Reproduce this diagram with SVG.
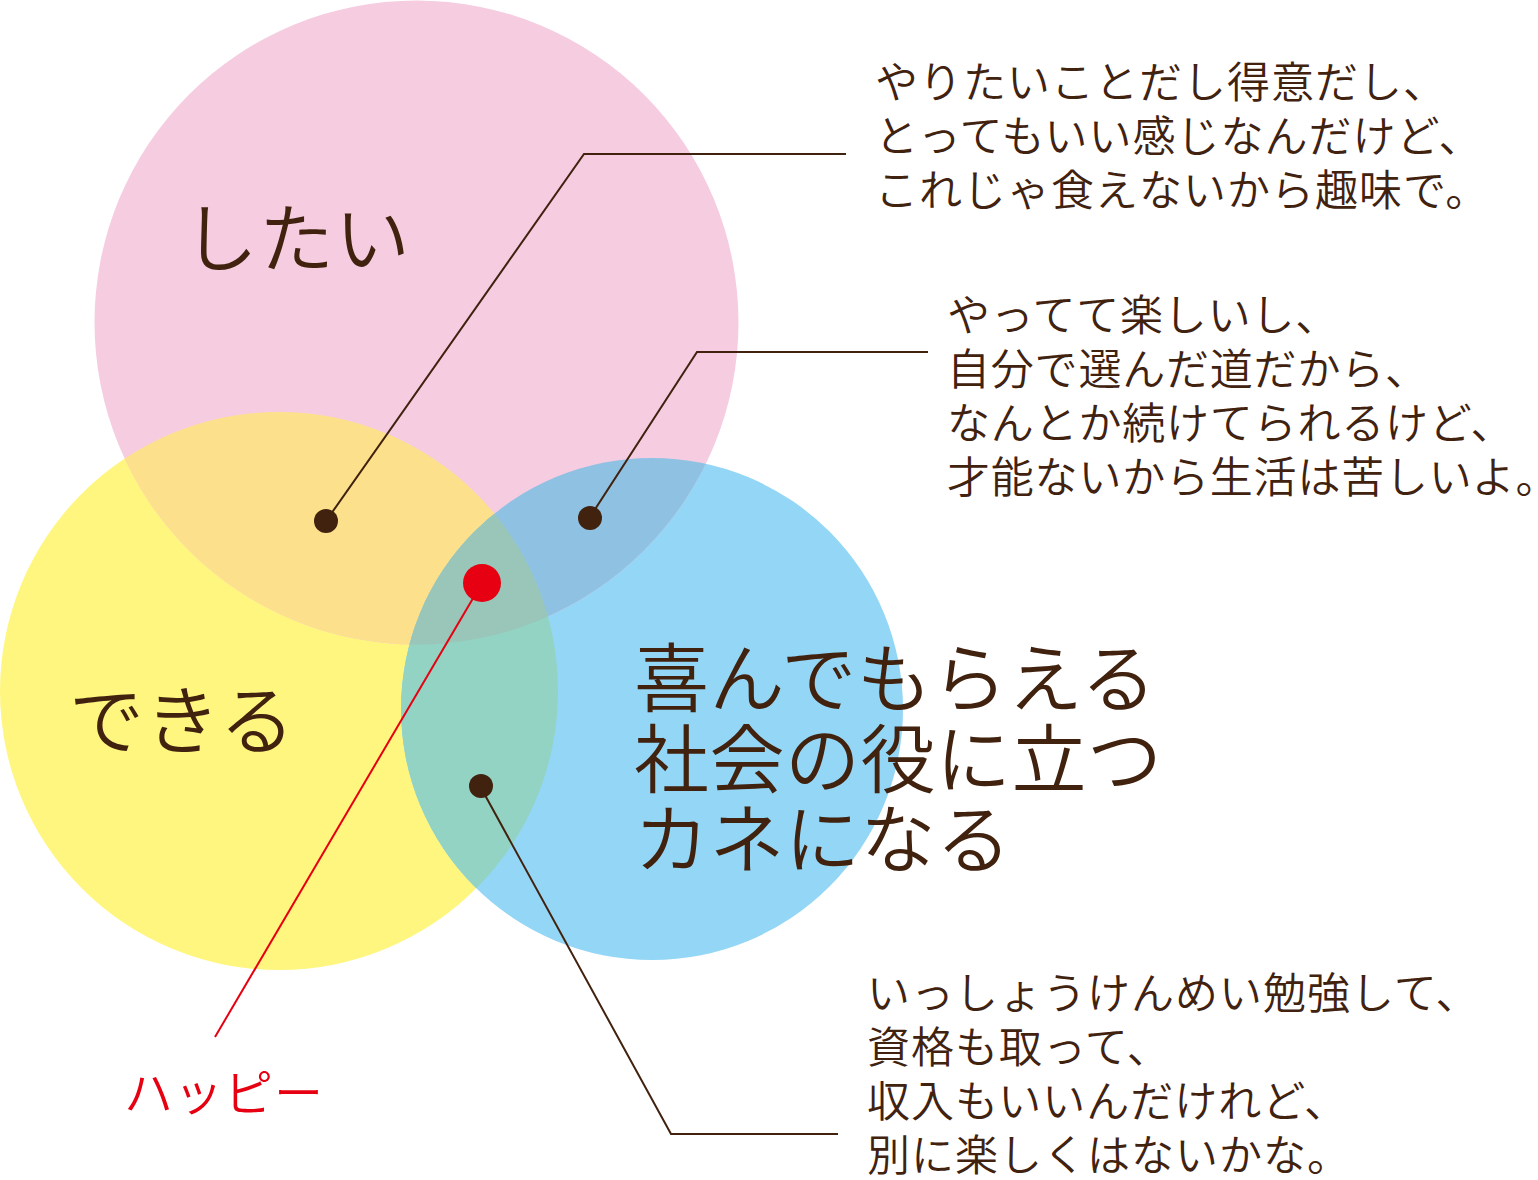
<svg xmlns="http://www.w3.org/2000/svg" width="1538" height="1180" viewBox="0 0 1538 1180">
<style>
text{font-family:"Noto Sans CJK JP","Noto Sans CJK SC",sans-serif;font-weight:350;fill:#40220f}
.big{font-size:75px;letter-spacing:1px}
.cap{font-size:75px;letter-spacing:0.5px}
.note{font-size:43px;letter-spacing:1px}
.note2{font-size:43px;letter-spacing:0.8px}
.happy{font-size:49px;letter-spacing:1px;fill:#e60012}
.ln{fill:none;stroke:#40220f;stroke-width:2}
.red{fill:none;stroke:#e60012;stroke-width:2}
</style>
<defs>
<clipPath id="cY"><circle cx="279" cy="691" r="279"/></clipPath>
<clipPath id="cB"><circle cx="652" cy="709" r="251"/></clipPath>
<clipPath id="cP"><circle cx="416.5" cy="322.5" r="322"/></clipPath>
</defs>
<rect width="1538" height="1180" fill="#fff"/>
<g id="circle-dekiru">
<circle cx="279" cy="691" r="279" fill="#fff680"/>
</g>
<g id="circle-yorokonde">
<circle cx="652" cy="709" r="251" fill="#94d6f5"/>
</g>
<g id="circle-shitai">
<circle cx="416.5" cy="322.5" r="322" fill="#f6cce1"/>
</g>
<g id="overlaps">
<circle cx="416.5" cy="322.5" r="322" fill="#fde08c" clip-path="url(#cY)"/>
<circle cx="416.5" cy="322.5" r="322" fill="#8fc1e3" clip-path="url(#cB)"/>
<circle cx="279" cy="691" r="279" fill="#93d3c3" clip-path="url(#cB)"/>
<g clip-path="url(#cP)"><circle cx="279" cy="691" r="279" fill="#9ac5b9" clip-path="url(#cB)"/></g>
</g>
<g id="label-shitai"><text class="big" x="183" y="266">したい</text></g>
<g id="label-dekiru"><text class="big" x="69" y="748">できる</text></g>
<g id="label-kane">
<text class="cap" x="634" y="706">喜んでもらえる</text>
<text class="cap" x="634" y="787">社会の役に立つ</text>
<text class="cap" x="634" y="867">カネになる</text>
</g>
<g id="connectors">
<polyline class="ln" points="326,521 584,154 846,154"/>
<polyline class="ln" points="590,517 697,352 928,352"/>
<polyline class="ln" points="480,786 671,1134 838,1134"/>
<line class="red" x1="482" y1="583" x2="215" y2="1037"/>
<circle cx="326" cy="521" r="12" fill="#40220f"/>
<circle cx="590" cy="518" r="12" fill="#40220f"/>
<circle cx="481" cy="786" r="12" fill="#40220f"/>
<circle cx="482" cy="583" r="19" fill="#e60012"/>
</g>
<g id="note-shitai-dekiru">
<text class="note" x="875" y="98">やりたいことだし得意だし、</text>
<text class="note" x="875" y="152">とってもいい感じなんだけど、</text>
<text class="note" x="875" y="206">これじゃ食えないから趣味で。</text>
</g>
<g id="note-shitai-kane">
<text class="note2" x="947" y="331">やってて楽しいし、</text>
<text class="note2" x="947" y="385">自分で選んだ道だから、</text>
<text class="note2" x="947" y="439">なんとか続けてられるけど、</text>
<text class="note2" x="947" y="493">才能ないから生活は苦しいよ。</text>
</g>
<g id="note-dekiru-kane">
<text class="note" x="867" y="1009">いっしょうけんめい勉強して、</text>
<text class="note" x="867" y="1063">資格も取って、</text>
<text class="note" x="867" y="1117">収入もいいんだけれど、</text>
<text class="note" x="867" y="1171">別に楽しくはないかな。</text>
</g>
<g id="label-happy"><text class="happy" x="124" y="1111">ハッピー</text></g>
</svg>
